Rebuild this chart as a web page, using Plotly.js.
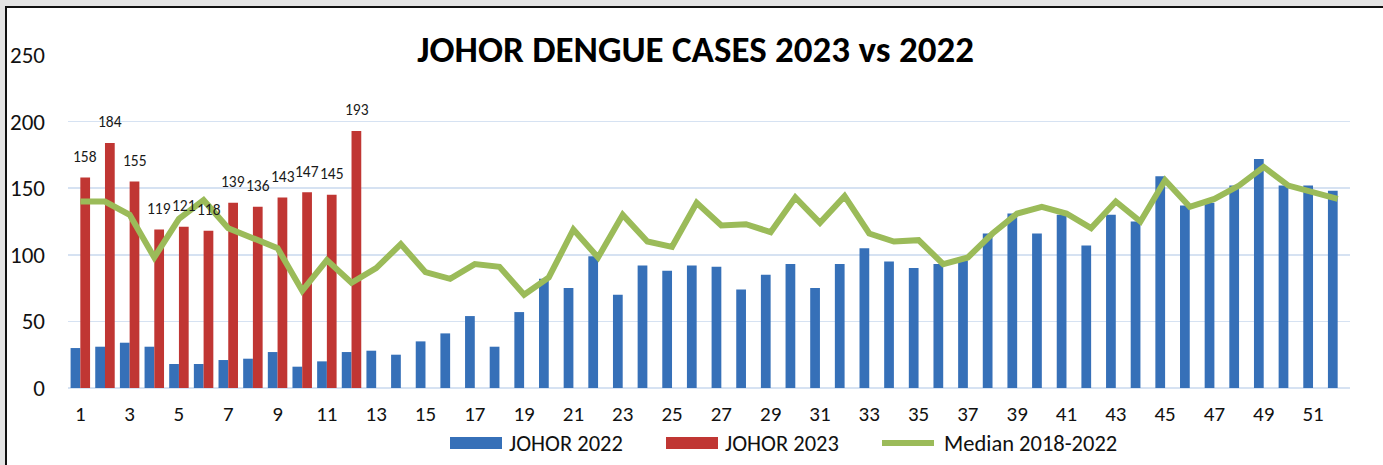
<!DOCTYPE html>
<html>
<head>
<meta charset="utf-8">
<script src="https://cdn.plot.ly/plotly-3.0.1.min.js"></script>
<style>
  html, body { margin: 0; padding: 0; background: #e4e4e4; overflow: hidden; }
  #frame { position: absolute; left: 5px; top: 6px; width: 1400px; height: 480px; background: #fff;
           border-left: 2px solid #111; border-top: 2px solid #111; }
  #chart { position: absolute; left: 0; top: 0; width: 1383px; height: 465px; }
</style>
</head>
<body>
<div id="frame"></div>
<div id="chart"></div>
<script>
const weeks = Array.from({length: 52}, (_, i) => i + 1);

const johor2022 = [30, 31, 34, 31, 18, 18, 21, 22, 27, 16, 20, 27, 28, 25, 35, 41,
  54, 31, 57, 82, 75, 99, 70, 92, 88, 92, 91, 74, 85, 93, 75, 93, 105, 95,
  90, 93, 96, 116, 131, 116, 130, 107, 130, 125, 159, 137, 139, 152, 172, 152, 152, 148];

const johor2023 = [158, 184, 155, 119, 121, 118, 139, 136, 143, 147, 145, 193];

const median1822 = [140, 140, 130, 98, 127, 141, 120, 112, 105, 73, 96, 79, 90, 108, 87, 82,
  93, 91, 70, 83, 119, 98, 130, 110, 106, 139, 122, 123, 117, 143, 124, 144, 116, 110,
  111, 93, 98, 116, 131, 136, 131, 120, 140, 125, 156, 136, 142, 152, 166, 152, 147, 142];

const seriesNames = ['JOHOR 2022', 'JOHOR 2023', 'Median 2018-2022'];
const seriesColors = ['#3670b8', '#c03633', '#9bbb59'];

const tickWeeks = weeks.filter(w => w % 2 === 1);
const fontFam = 'Carlito, Lato, "Open Sans", sans-serif';

const traces = [
  { type: 'bar', name: seriesNames[0], x: weeks, y: johor2022,
    marker: { color: seriesColors[0] } },
  { type: 'bar', name: seriesNames[1], x: weeks.slice(0, johor2023.length), y: johor2023,
    marker: { color: seriesColors[1] } },
  { type: 'scatter', mode: 'lines', name: seriesNames[2], x: weeks, y: median1822,
    line: { color: seriesColors[2], width: 6 } }
];

const labelAnnotations = johor2023.map((v, i) => ({
  x: weeks[i], y: v, xref: 'x', yref: 'y', text: String(v), showarrow: false,
  xshift: 5, yshift: 21, font: { family: fontFam, size: 15.5, color: '#1a1a1a' }
}));

// Custom legend (pixel positions converted to paper coordinates)
const M = { l: 68, r: 33, t: 55, b: 77 };
const W = 1383, H = 465;
const pw = W - M.l - M.r, ph = H - M.t - M.b;
const px = v => (v - M.l) / pw;
const py = v => (H - M.b - v) / ph;
const legY = 443;
const legItems = [
  { kind: 'rect', x0: 450, x1: 502, tx: 507 },
  { kind: 'rect', x0: 666, x1: 718, tx: 723 },
  { kind: 'line', x0: 882, x1: 934, tx: 942 }
];
const legShapes = legItems.map((it, i) => it.kind === 'rect'
  ? { type: 'rect', xref: 'paper', yref: 'paper', x0: px(it.x0), x1: px(it.x1), y0: py(legY + 6), y1: py(legY - 6),
      fillcolor: seriesColors[i], line: { width: 0 } }
  : { type: 'line', xref: 'paper', yref: 'paper', x0: px(it.x0), x1: px(it.x1), y0: py(legY), y1: py(legY),
      line: { color: seriesColors[i], width: 6 } });
const legTexts = legItems.map((it, i) => ({
  xref: 'paper', yref: 'paper', x: px(it.tx), y: py(legY), xanchor: 'left', yanchor: 'middle',
  text: seriesNames[i], showarrow: false, font: { family: fontFam, size: 22.5, color: '#111' }
}));

const layout = {
  width: W, height: H,
  paper_bgcolor: 'rgba(0,0,0,0)', plot_bgcolor: 'rgba(0,0,0,0)',
  margin: M,
  title: { text: '<b>JOHOR DENGUE CASES 2023 vs 2022</b>', xref: 'container', x: 0.503, xanchor: 'center',
           yref: 'container', y: 0.895, yanchor: 'middle',
           font: { family: fontFam, size: 37, color: '#000' } },
  barmode: 'group', bargap: 0.21, bargroupgap: 0,
  xaxis: { type: 'linear', range: [0.5, 52.5], tickmode: 'array', tickvals: tickWeeks,
           ticktext: tickWeeks.map(String), showgrid: false, zeroline: false, showline: false,
           ticks: '', ticklabelstandoff: 11, tickfont: { family: fontFam, size: 21, color: '#111' } },
  yaxis: { range: [0, 250], tickvals: [0, 50, 100, 150, 200, 250], showgrid: true,
           gridcolor: '#d6e2f2', gridwidth: 1.5, zeroline: true, zerolinecolor: '#d6e2f2', zerolinewidth: 2,
           showline: false, ticks: '', ticklabelstandoff: 22,
           tickfont: { family: fontFam, size: 23, color: '#111' } },
  showlegend: false,
  shapes: legShapes,
  annotations: labelAnnotations.concat(legTexts)
};

Plotly.newPlot('chart', traces, layout, { displayModeBar: false, staticPlot: true });
</script>
</body>
</html>
